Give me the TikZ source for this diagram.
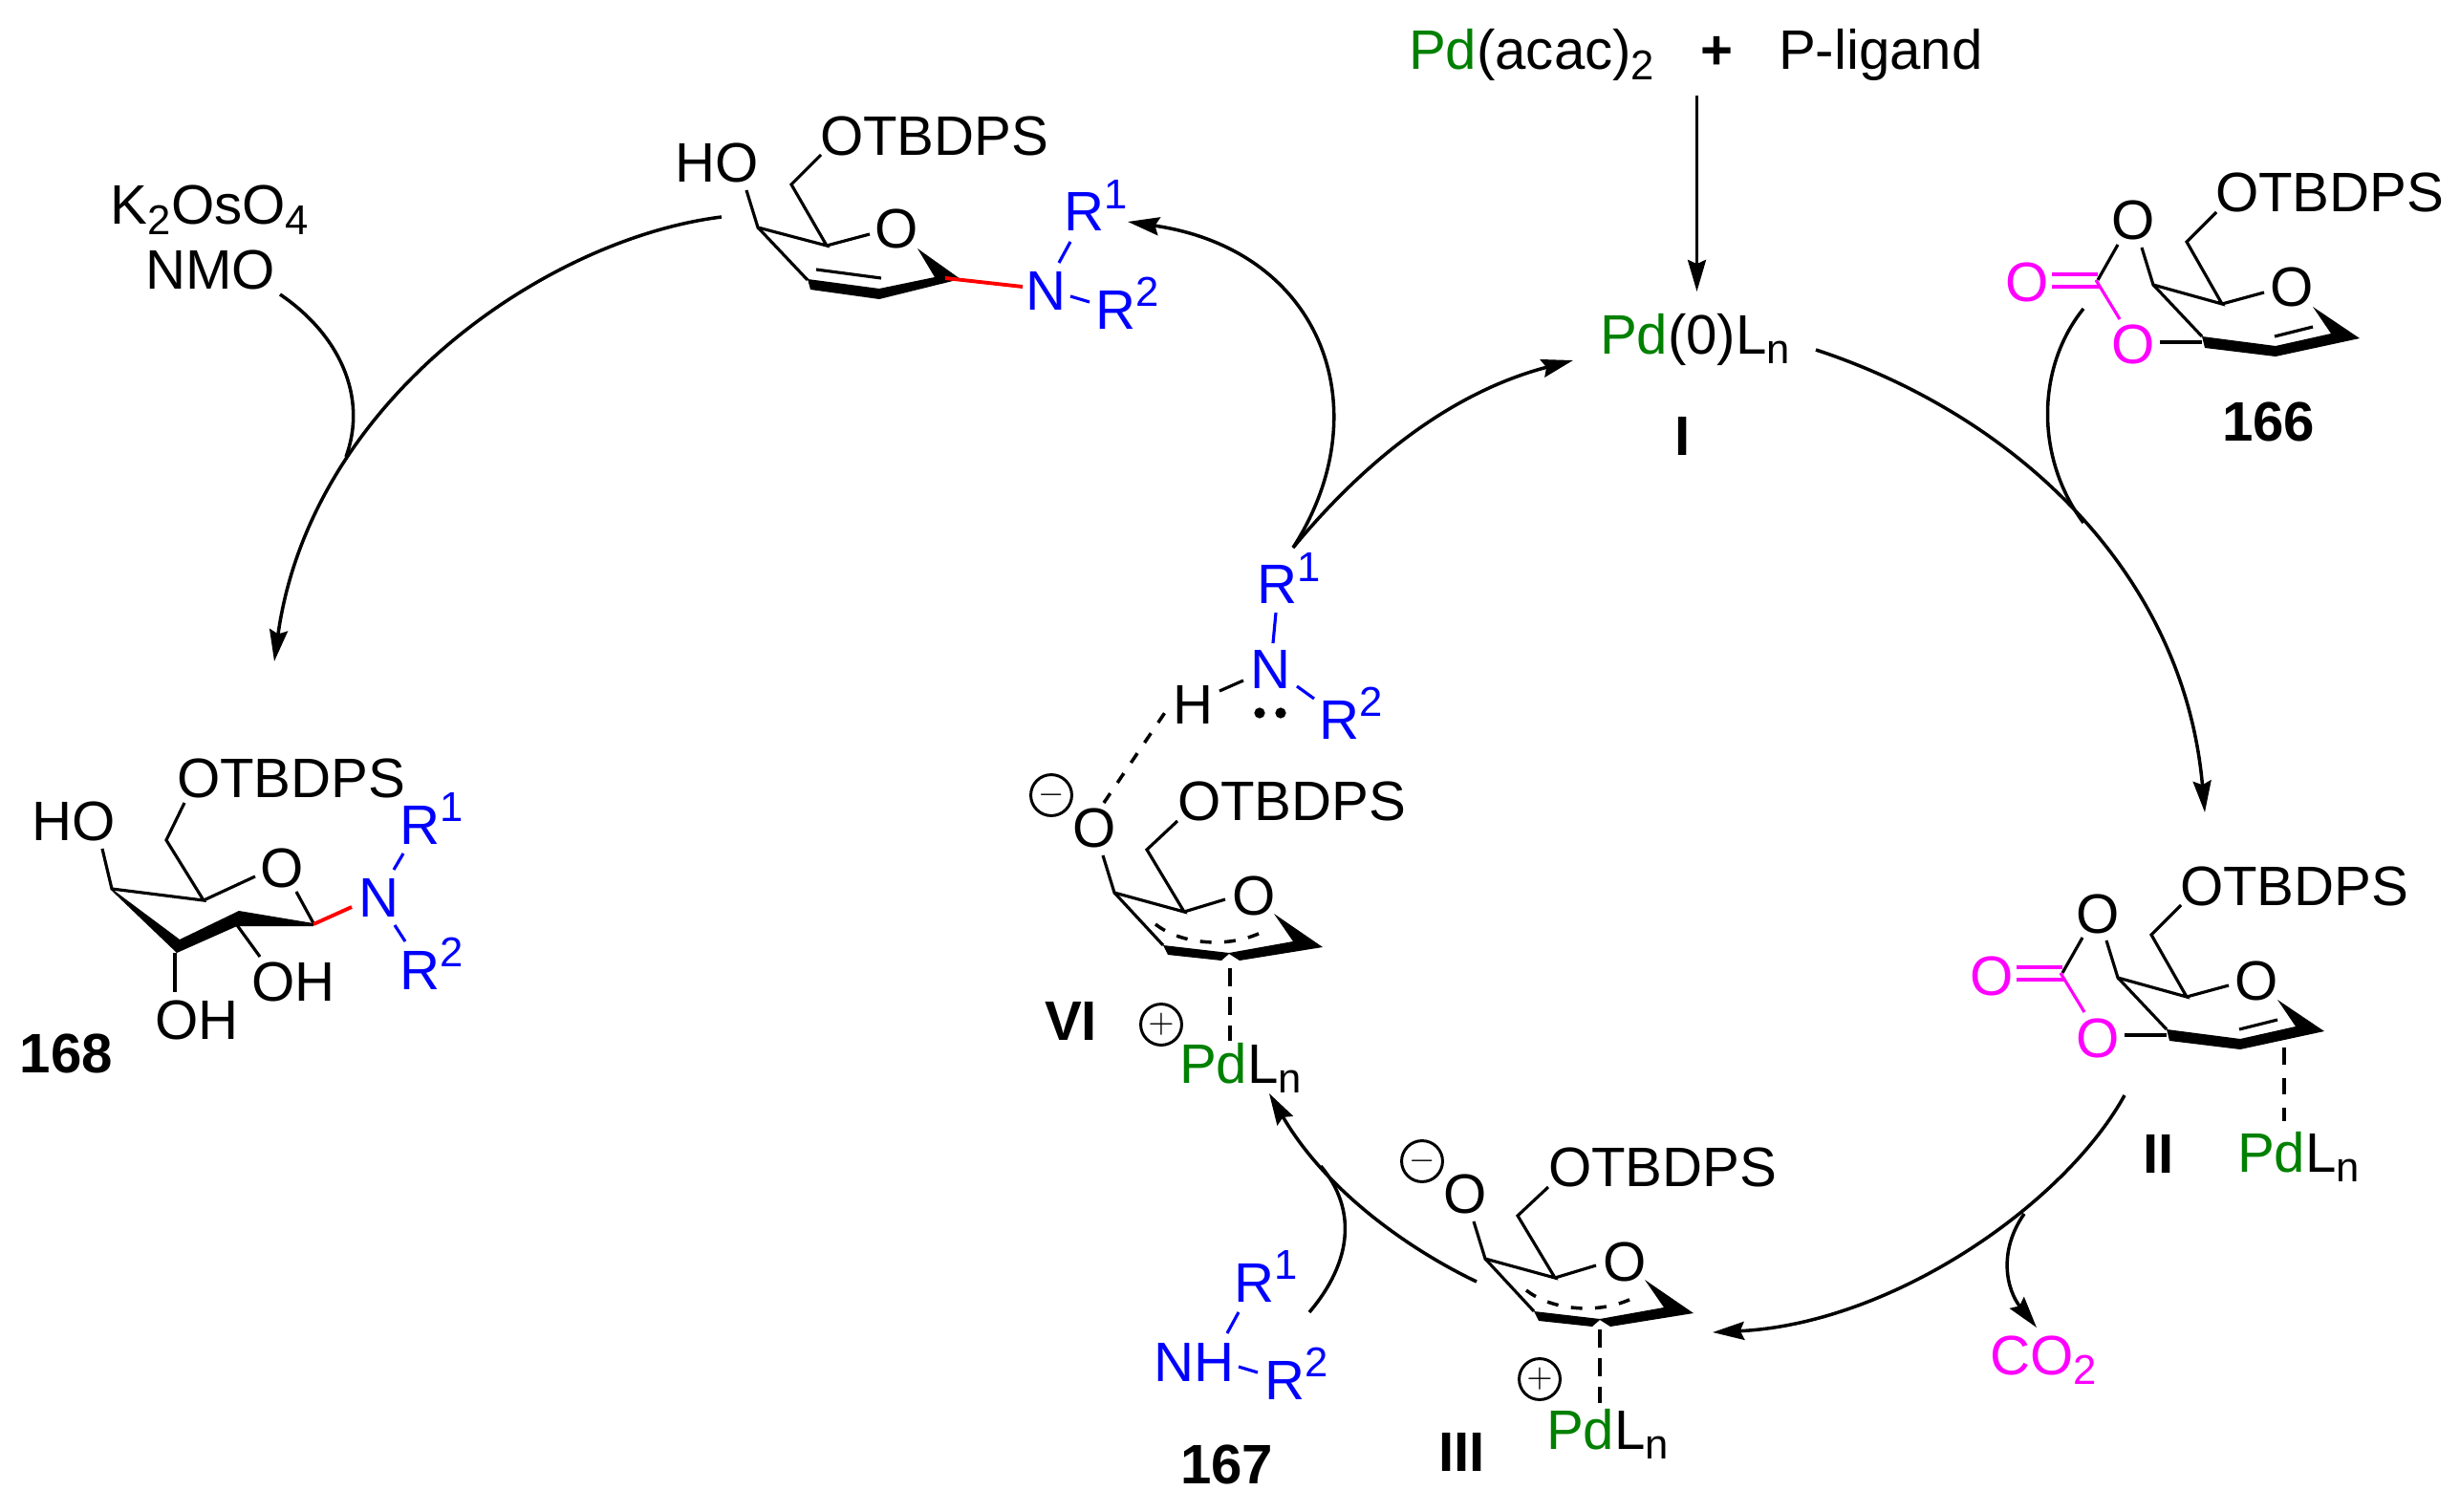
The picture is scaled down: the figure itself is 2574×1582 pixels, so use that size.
\documentclass[tikz,border=0pt]{standalone}
\usepackage{fontspec}
\setmainfont{Liberation Sans}
\usetikzlibrary{arrows.meta}
\definecolor{pdgreen}{RGB}{0,128,0}
\definecolor{amblue}{RGB}{0,0,255}
\definecolor{cmag}{RGB}{255,0,255}
\newcommand{\sups}[1]{\raisebox{6.8pt}{\fontsize{12.4}{13}\selectfont #1}}
\newcommand{\subs}[1]{\raisebox{-3.1pt}{\fontsize{12.4}{13}\selectfont #1}}
\newcommand{\Pdg}{\textcolor{pdgreen}{Pd}}
\newcommand{\PdLn}{\Pdg L\subs{n}}
\tikzset{
  lab/.style={inner sep=0pt, outer sep=0pt, anchor=base west, font=\fontsize{16.55}{18}\selectfont},
  num/.style={lab, font=\fontsize{16.55}{18}\selectfont\bfseries},
  amine/.style={lab, text=amblue},
  carb/.style={lab, text=cmag},
  bond/.style={line width=0.9pt},
  ambond/.style={bond, amblue},
  cbond/.style={bond, cmag},
  newbond/.style={line width=1.1pt, red},
  rxn/.style={line width=1pt, -{Stealth[length=9.4pt, width=5.4pt, inset=1.2pt]}},
  merge/.style={line width=1pt},
  pdbond/.style={line width=1pt, dash pattern=on 5.5pt off 3pt},
  allyl/.style={line width=1pt, dash pattern=on 3.4pt off 3.8pt},
  chg/.style={circle, draw, line width=0.85pt, inner sep=0pt, minimum size=12.2pt, font=\fontsize{10}{12}\selectfont},
  carbsugar/.pic={
    \node[lab] (otb) at (2318,222) {OTBDPS};
    \node[lab] (oa) at (2209,251) {O};
    \node[lab] (or) at (2375,321) {O};
    \node[carb] (oc) at (2098,316) {O};
    \node[carb] (ob) at (2209,381) {O};
    \coordinate (Cc) at (2195,293);
    \coordinate (C4) at (2253,298);
    \coordinate (C5) at (2325,318);
    \coordinate (C6) at (2288,253);
    \coordinate (C3) at (2304,352);
    \draw[bond] (Cc) -- (2216,256);
    \draw[bond] (2241,259) -- (C4) -- (C5) -- (C6) -- (2319,222);
    \draw[bond] (C5) -- (2369,306);
    \draw[bond] (C4) -- (C3);
    \fill (C3) -- (2381,362) -- (2439,349) -- (2420,321) -- (2469,354) -- (2381,373) -- (2307,364) -- cycle;
    \draw[bond] (2380,352) -- (2420,342);
    \draw[bond] (2260,358) -- (2304,358);
    \draw[cbond] (2147,287) -- (2195,287);
    \draw[cbond] (2147,300) -- (2197,300);
    \draw[cbond] (2193,293) -- (2218,334);
  },
  allylsugar/.pic={
    \node[lab] (otb) at (1620,1241) {OTBDPS};
    \node[lab] (om) at (1510,1269) {O};
    \node[lab] (or) at (1677,1340) {O};
    \node[chg] (neg) at (1488,1215) {$-$};
    \coordinate (C4) at (1554,1317);
    \coordinate (C5) at (1627,1337);
    \coordinate (C6) at (1588,1272);
    \coordinate (C3) at (1605,1372);
    \draw[bond] (1542,1278) -- (C4) -- (C5) -- (C6) -- (1620,1242);
    \draw[bond] (C5) -- (1670,1324);
    \draw[bond] (C4) -- (C3);
    \fill (C3) -- (1674,1380) -- (1741,1368) -- (1721,1339) -- (1772,1374) -- (1685,1388) -- (1674,1381) -- (1666,1388) -- (1610,1382) -- cycle;
    \draw[allyl] (1597,1350) .. controls (1625,1372) and (1675,1375) .. (1709,1358);
  },
}
\begin{document}
\begin{tikzpicture}[x=0.01cm, y=-0.01cm]
  \useasboundingbox (0,0) rectangle (2574,1582);
  % catalyst precursor
  \node[lab] (pdacac) at (1474,73) {\Pdg(acac)\subs{2}};
  \node[num] (plus) at (1779,73) {+};
  \node[lab] (ligand) at (1861,73) {P-ligand};
  \node[lab] (pdzero) at (1674,370) {\Pdg(0)L\subs{n}};
  \node[num] (lI) at (1752,477) {I};
  \coordinate (feedtop) at (1775.5,100);
  \coordinate (feedend) at (1775.5,305);
  \draw[rxn] (feedtop) -- (feedend);
  % substrate 166
  \pic (sub) at (0,0) {carbsugar};
  \node[num] (l166) at (2325,462) {166};
  % complex II
  \pic (cII) at (-37,725) {carbsugar};
  \node[lab] (pdII) at (2341,1226) {\PdLn};
  \node[num] (lII) at (2242,1227) {II};
  \coordinate (dIIa) at (2390,1096);
  \coordinate (dIIb) at (2390,1173);
  \draw[bond, dash pattern=on 5pt off 4pt] (dIIa) -- (dIIb);
  % complex III
  \pic (cIII) at (0,0) {allylsugar};
  \node[chg] (posIII) at (1611,1443) {$+$};
  \node[lab] (pdIII) at (1618,1516) {\PdLn};
  \node[num] (lIII) at (1505,1539) {III};
  \coordinate (dIIIa) at (1674,1391);
  \coordinate (dIIIb) at (1674,1468);
  \draw[pdbond] (dIIIa) -- (dIIIb);
  % complex VI
  \pic (cVI) at (-388,-383) {allylsugar};
  \node[chg] (posVI) at (1215,1072) {$+$};
  \node[lab] (pdVI) at (1234,1133) {\PdLn};
  \node[num] (lVI) at (1093,1088) {VI};
  \coordinate (dVIa) at (1287,1013);
  \coordinate (dVIb) at (1287,1089);
  \draw[pdbond] (dVIa) -- (dVIb);
  % amine 167
  \node[amine] (nh) at (1207,1445) {NH};
  \node[amine] (ra) at (1291,1362) {R\sups{1}};
  \node[amine] (rb) at (1323,1464) {R\sups{2}};
  \node[num] (l167) at (1235,1552) {167};
  \draw[ambond] (1296,1373) -- (1284,1395);
  \draw[ambond] (1296,1430) -- (1316,1436);
  % amine bound to VI
  \node[lab] (hh) at (1227,758) {H};
  \node[amine] (nn) at (1308,720) {N};
  \node[amine] (rc) at (1315,632) {R\sups{1}};
  \node[amine] (rd) at (1380,773) {R\sups{2}};
  \draw[ambond] (1335,641) -- (1332,673);
  \draw[bond] (1276,723) -- (1301,712);
  \draw[ambond] (1357,718) -- (1375,731);
  \draw[allyl] (1155,840) -- (1222,741);
  \fill (1318,746) circle (1.6pt);
  \fill (1340,746) circle (1.6pt);
  % product with free OH
  \node[lab] (hoA) at (706,191) {HO};
  \node[lab] (otbA) at (858,163) {OTBDPS};
  \node[lab] (orA) at (915,260) {O};
  \node[amine] (nA) at (1073,324) {N};
  \node[amine] (rA) at (1113,242) {R\sups{1}};
  \node[amine] (rB) at (1146,344) {R\sups{2}};
  \draw[bond] (781,199) -- (793,238) -- (865,257) -- (828,193) -- (859,162);
  \draw[bond] (865,257) -- (910,245);
  \draw[bond] (793,238) -- (845,293);
  \fill (845,292) -- (920,302) -- (978,290) -- (960,260) -- (1005,292) -- (920,313) -- (848,303) -- cycle;
  \draw[bond] (854,282) -- (922,291);
  \draw[newbond] (989,291) -- (1070,300);
  \draw[ambond] (1120,253) -- (1108,275);
  \draw[ambond] (1120,310) -- (1140,316);
  % product 168
  \node[lab] (otbB) at (185,834) {OTBDPS};
  \node[lab] (hoB) at (33,879) {HO};
  \node[lab] (orB) at (272,928) {O};
  \node[amine] (nB) at (375,959) {N};
  \node[amine] (rE) at (418,883) {R\sups{1}};
  \node[amine] (rF) at (418,1035) {R\sups{2}};
  \node[lab] (ohA) at (263,1047) {OH};
  \node[lab] (ohB) at (162,1087) {OH};
  \node[num] (l168) at (21,1122) {168};
  \draw[bond] (107,888) -- (117,930) -- (213,942) -- (174,879) -- (193,840);
  \draw[bond] (213,942) -- (267,917);
  \draw[bond] (310,933) -- (328,966);
  \fill (117,930) -- (188,983) -- (250,953) -- (328,966) -- (328,969) -- (248,969) -- (185,997) -- (117,932) -- cycle;
  \draw[bond] (248,968) -- (272,1001);
  \draw[bond] (183,997) -- (183,1038);
  \draw[newbond] (328,967) -- (368,949);
  \draw[ambond] (412,910) -- (422,893);
  \draw[ambond] (413,968) -- (424,985);
  % reagents
  \node[lab] (osm) at (116,235) {K\subs{2}OsO\subs{4}};
  \node[lab] (nmo) at (152,303) {NMO};
  \node[carb] (cotwo) at (2082,1438) {CO\subs{2}};
  % cycle arrows
  \coordinate (aminetop) at (1353,573);
  \coordinate (tipR) at (1180,232);
  \coordinate (tipPd) at (1646,377);
  \coordinate (outPd) at (1900,366);
  \coordinate (tipII) at (2307,850);
  \coordinate (inS) at (2180,323);
  \coordinate (joinS) at (2180,547);
  \coordinate (outII) at (2223,1146);
  \coordinate (tipIII) at (1792,1394);
  \coordinate (outC) at (2118,1270);
  \coordinate (tipC) at (2131,1389);
  \coordinate (outIII) at (1545,1341);
  \coordinate (tipVI) at (1328,1144);
  \coordinate (inN) at (1370,1373);
  \coordinate (joinN) at (1382,1220);
  \coordinate (outA) at (755,227);
  \coordinate (tip168) at (287,692);
  \coordinate (inO) at (293,308);
  \coordinate (joinO) at (362,478);
  \draw[rxn] (aminetop) .. controls (1445,430) and (1385,262) .. (tipR);
  \draw[rxn] (aminetop) .. controls (1430,480) and (1520,410) .. (tipPd);
  \draw[rxn] (outPd) .. controls (2110,435) and (2285,600) .. (tipII);
  \draw[merge] (inS) .. controls (2130,385) and (2130,480) .. (joinS);
  \draw[rxn] (outII) .. controls (2160,1260) and (1980,1385) .. (tipIII);
  \draw[rxn] (outC) .. controls (2090,1310) and (2100,1350) .. (tipC);
  \draw[rxn] (outIII) .. controls (1480,1310) and (1390,1250) .. (tipVI);
  \draw[merge] (inN) .. controls (1415,1320) and (1420,1265) .. (joinN);
  \draw[rxn] (outA) .. controls (570,250) and (325,420) .. (tip168);
  \draw[merge] (inO) .. controls (355,350) and (385,415) .. (joinO);
\end{tikzpicture}
\end{document}
